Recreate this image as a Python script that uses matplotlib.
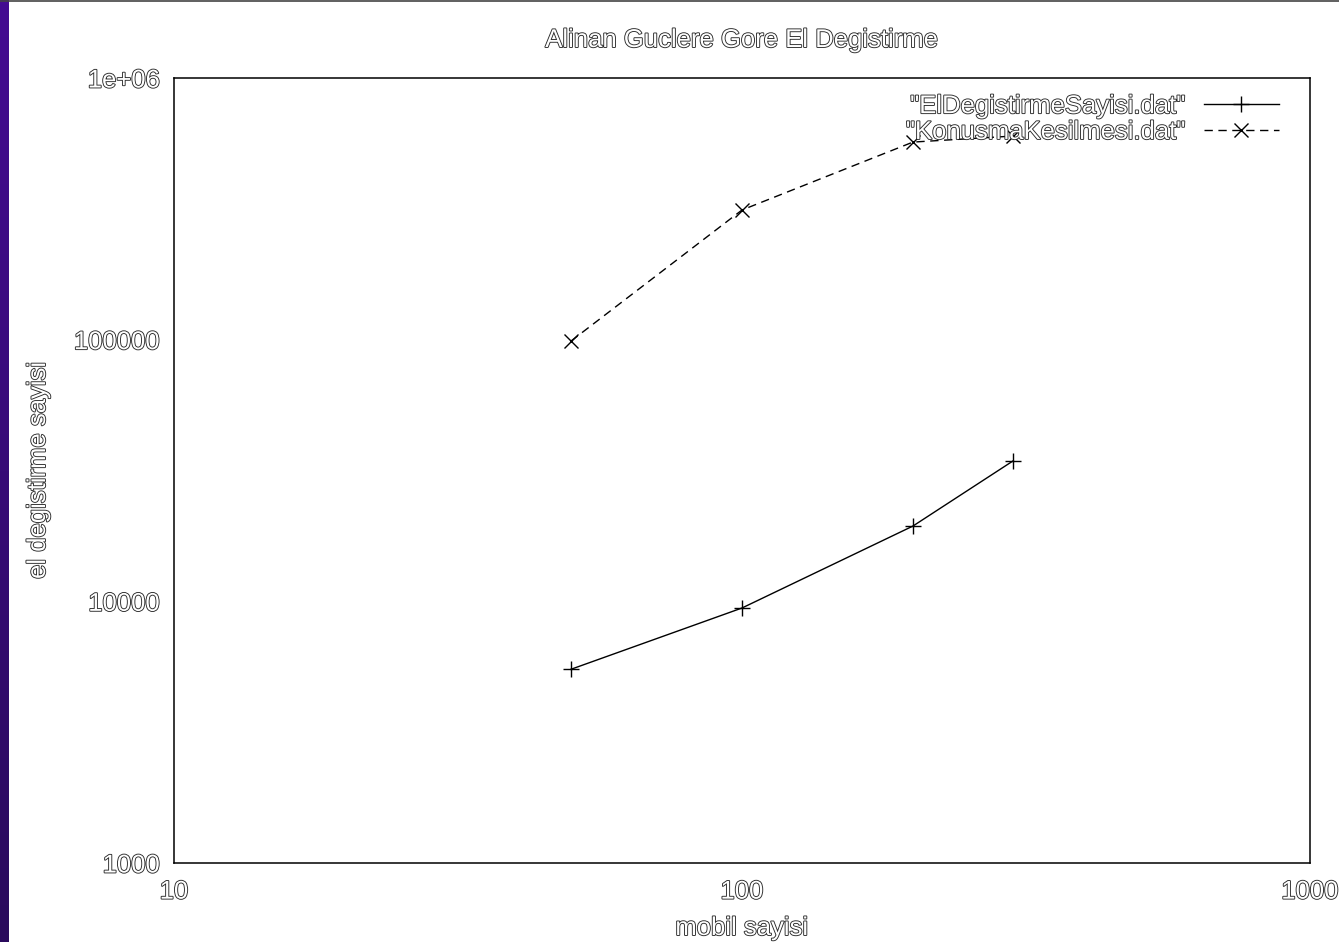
import numpy as np
import matplotlib
matplotlib.use("Agg")
import matplotlib.pyplot as plt
import matplotlib.patheffects as pe

# Data
mobil = [50, 100, 200, 300]
el_degistirme = [5500, 9430, 19400, 34400]
konusma_kesilmesi = [98800, 313000, 569000, 600000]

x_ticks = [10, 100, 1000]
x_tick_labels = ["10", "100", "1000"]
y_ticks = [1000, 10000, 100000, 1000000]
y_tick_labels = ["1000", "10000", "100000", "1e+06"]

W, H = 1339, 942
FS = 18.5
plt.rcParams["font.family"] = ["Liberation Sans", "DejaVu Sans"]

fig = plt.figure(figsize=(W / 100, H / 100), dpi=100, facecolor="white")

# Hollow (outlined) text look
outline = [pe.withStroke(linewidth=1.3, foreground="#2a2a2a")]
txt_kw = dict(color="white", fontsize=FS, path_effects=outline)

# Purple strip along the left edge
strip = fig.add_axes([0, 0, 9 / W, 1])
grad = np.linspace(0, 1, 256).reshape(-1, 1)
strip.imshow(grad, aspect="auto", cmap=matplotlib.colors.LinearSegmentedColormap.from_list(
    "p", ["#440c92", "#2a0a5c"]), extent=[0, 1, 0, 1])
strip.axis("off")

# Thin border line along the top
fig.add_artist(plt.Line2D([0, 1], [1 - 0.8 / H, 1 - 0.8 / H], color="#444444", lw=1.2))

left, right, top, bottom = 174, 1310, 78, 863
ax = fig.add_axes([left / W, 1 - bottom / H, (right - left) / W, (bottom - top) / H])
ax.set_xscale("log")
ax.set_yscale("log")
ax.set_xlim(10, 1000)
ax.set_ylim(1000, 1e6)

ax.plot(mobil, el_degistirme, color="black", lw=1.0, marker="+", markersize=11,
        markeredgewidth=1.0, label='"ElDegistirmeSayisi.dat"')
ax.plot(mobil, konusma_kesilmesi, color="black", lw=1.0, linestyle=(0, (6, 4)),
        marker="x", markersize=10, markeredgewidth=1.0, label='"KonusmaKesilmesi.dat"')

ax.set_xticks(x_ticks)
ax.set_xticklabels(x_tick_labels)
ax.set_yticks(y_ticks)
ax.set_yticklabels(y_tick_labels)
ax.minorticks_off()
ax.tick_params(length=0)
for lab in ax.get_xticklabels() + ax.get_yticklabels():
    lab.set_color("white")
    lab.set_fontsize(FS)
    lab.set_path_effects(outline)
ax.tick_params(axis="x", pad=12)
ax.tick_params(axis="y", pad=10)

for s in ax.spines.values():
    s.set_linewidth(1.1)
    s.set_color("black")

# Title and axis labels at fixed figure positions
fig.text(742 / W, 1 - 40 / H, "Alinan Guclere Gore El Degistirme",
         ha="center", va="center", **txt_kw)
fig.text(742 / W, 1 - 928 / H, "mobil sayisi", ha="center", va="center", **txt_kw)
fig.text(38 / W, 1 - 470 / H, "el degistirme sayisi", ha="center", va="center",
         rotation=90, **txt_kw)

leg = ax.legend(loc="upper right", markerfirst=False, frameon=False, numpoints=1,
                handlelength=2.9, handletextpad=0.7, labelspacing=0.07,
                fontsize=FS, borderaxespad=0.0, bbox_to_anchor=(0.9815, 0.9925))
for t in leg.get_texts():
    t.set_color("white")
    t.set_path_effects(outline)

fig.savefig("out.png", dpi=100, facecolor="white")
